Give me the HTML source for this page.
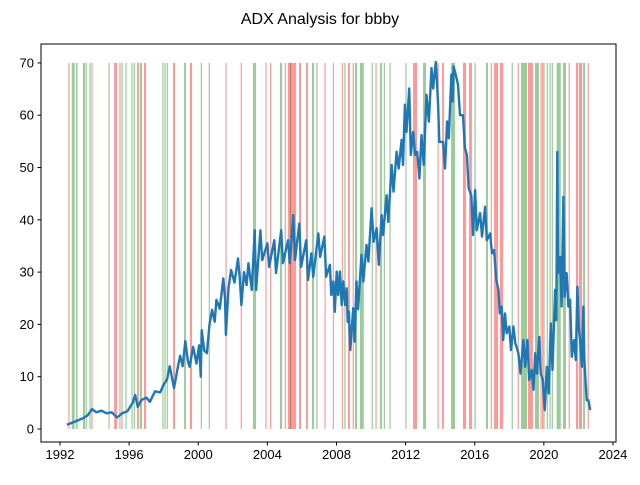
<!DOCTYPE html>
<html><head><meta charset="utf-8"><style>
body{margin:0;background:#fff}
svg text{font-family:"Liberation Sans","DejaVu Sans",sans-serif;fill:#000}
</style></head><body>
<svg id="chart" width="640" height="480">
<rect width="640" height="480" fill="#fff"/>
<text x="320" y="24" text-anchor="middle" font-size="16">ADX Analysis for bbby</text>
<g id="bands"></g>
<g id="series"></g>
<g id="axes"></g>
</svg>
<script>
const priceYears=[1992.4,1992.7,1993.0,1993.3,1993.6,1993.85,1994.1,1994.4,1994.7,1995.0,1995.3,1995.6,1995.9,1996.2,1996.35,1996.5,1996.7,1997.0,1997.2,1997.5,1997.8,1998.0,1998.2,1998.35,1998.5,1998.6,1998.8,1998.95,1999.1,1999.25,1999.4,1999.5,1999.7,1999.9,2000.05,2000.15,2000.2,2000.35,2000.5,2000.65,2000.8,2000.95,2001.05,2001.25,2001.45,2001.55,2001.6,2001.75,2001.9,2002.1,2002.3,2002.4,2002.5,2002.65,2002.8,2002.9,2003.1,
2003.27,2003.35,2003.6,2003.7,2004.0,2004.1,2004.4,2004.5,2004.8,2004.9,2005.2,2005.3,2005.5,2005.6,2005.85,2005.95,2006.25,2006.35,2006.55,2006.65,2006.95,2007.05,2007.3,2007.4,
2007.62,2007.7,2007.82,2007.9,2008.01,2008.1,2008.2,2008.3,2008.39,2008.5,2008.59,2008.65,2008.72,2008.8,2008.97,2009.05,2009.16,2009.25,2009.45,2009.55,2009.74,2009.85,2010.03,2010.15,2010.32,2010.45,2010.61,2010.7,2010.9,2011.0,2011.19,2011.3,2011.48,2011.6,2011.77,2011.85,2011.96,2012.05,2012.21,2012.3,2012.44,2012.55,2012.67,2012.8,2012.92,2013.05,2013.21,2013.35,2013.5,2013.6,2013.75,2013.82,2013.88,2013.95,2014.17,2014.28,2014.4,2014.5,2014.65,2014.72,2014.78,2014.9,2015.03,2015.15,2015.32,2015.43,2015.55,2015.65,2015.8,
2015.9,2016.02,2016.12,2016.31,2016.42,2016.6,2016.7,2016.89,2017.0,2017.12,2017.25,2017.37,2017.45,2017.56,2017.65,2017.75,2017.85,2018.0,2018.1,2018.24,2018.35,2018.53,2018.65,2018.82,2018.92,2019.05,2019.15,2019.3,2019.4,2019.5,2019.6,2019.73,2019.82,2019.94,2020.05,2020.17,2020.28,2020.4,2020.5,2020.65,2020.72,2020.78,2020.82,2020.94,2021.03,2021.13,2021.2,2021.32,2021.42,2021.52,2021.62,2021.75,2021.85,2021.94,2022.02,2022.1,2022.2,2022.29,2022.34,2022.39,2022.48,2022.58,2022.68];
const priceValues=[0.8,1.2,1.6,2.0,2.6,3.8,3.2,3.5,3.0,3.2,2.2,3.0,3.4,5.0,6.5,4.2,5.5,6.0,5.2,7.2,7.0,8.5,9.5,12.0,9.5,7.8,11.5,14.0,12.0,16.8,13.0,11.9,15.7,12.5,16.0,10.0,18.9,15.0,14.5,20.0,22.8,20.5,24.7,23.0,28.8,25.0,18.0,27.0,30.4,28.0,32.6,29.0,23.7,30.0,27.5,31.7,26.6,
38.0,26.6,38.0,32.3,35.5,31.0,36.1,29.8,38.0,31.7,36.1,31.7,40.9,32.3,39.3,31.0,36.1,28.5,33.6,29.1,37.4,32.9,36.8,29.1,
31.4,25.6,28.2,22.4,30.1,25.6,30.1,23.7,28.2,23.7,26.9,20.5,22.4,15.1,23.1,16.7,28.2,22.9,33.3,28.2,35.2,32.0,42.2,35.8,38.4,31.4,40.9,37.1,44.7,39.6,50.5,45.4,53.0,49.8,55.3,50.5,62.0,56.8,65.1,52.4,56.8,52.4,53.0,47.9,56.2,50.5,63.9,58.8,69.0,65.1,70.2,66.4,62.0,54.9,54.9,49.8,58.8,55.6,67.8,62.6,69.3,67.8,65.8,60.0,60.0,53.7,52.4,46.0,44.7,
37.1,45.7,38.0,41.3,36.8,42.5,36.1,37.4,33.6,34.2,28.5,26.6,22.1,23.4,17.0,22.1,18.3,19.6,15.1,19.6,16.4,14.5,10.6,17.0,11.9,17.0,9.4,11.3,7.5,14.5,10.6,17.6,10.6,9.4,3.6,11.9,6.8,20.2,11.3,26.6,20.8,53.0,29.8,32.9,23.4,44.4,25.3,29.8,23.4,24.7,13.8,17.0,13.2,27.2,19.6,17.0,11.9,23.4,13.8,10.6,5.5,5.5,3.6,3.0];
const redStarts=[1992.52,1993.85,1995.13,1995.47,1996.46,1996.86,1998.54,1999.52,2001.61,2002.49,2003.92,2004.19,2005.04,2005.19,2005.83,2006.24,2007.34,2007.82,2008.34,2008.67,2008.97,2010.29,2012.43,2013.88,2014.11,2015.32,2015.67,2016.96,2017.12,2017.46,2018.52,2019.08,2019.84,2019.93,2021.47,2021.86,2022.03,2022.57];
const redEnds=[1992.58,1993.85,1995.30,1995.53,1996.57,1996.98,1998.66,1999.64,2001.61,2002.49,2003.92,2004.19,2005.04,2005.66,2005.95,2006.35,2007.34,2007.82,2008.34,2008.78,2008.97,2010.29,2012.66,2013.88,2014.22,2015.50,2015.84,2016.96,2017.35,2017.64,2018.52,2019.37,2019.84,2019.93,2021.47,2021.98,2022.21,2022.57];
const greenStarts=[1992.68,1992.93,1993.33,1993.52,1993.74,1994.84,1995.59,1995.82,1996.17,1996.30,1996.63,1997.96,1998.08,1998.21,1999.18,2000.18,2000.64,2003.17,2004.73,2005.34,2006.58,2006.87,2008.49,2009.07,2009.36,2010.07,2010.52,2010.77,2011.10,2012.02,2013.01,2014.63,2016.02,2016.65,2018.17,2018.68,2019.49,2020.01,2020.20,2020.36,2020.49,2020.74,2021.11,2022.27];
const greenEnds=[1992.85,1993.02,1993.45,1993.52,1993.74,1994.84,1995.59,1995.82,1996.17,1996.30,1996.75,1997.96,1998.08,1998.21,1999.29,2000.18,2000.64,2003.34,2004.85,2005.34,2006.70,2006.87,2008.49,2009.19,2009.58,2010.07,2010.63,2010.77,2011.10,2012.02,2013.18,2014.86,2016.02,2016.77,2018.17,2019.03,2019.72,2020.07,2020.20,2020.36,2020.49,2020.98,2021.28,2022.38];
const xTicks=[1992,1996,2000,2004,2008,2012,2016,2020,2024];
const yTicks=[0,10,20,30,40,50,60,70];
const bandTop=70, bandBottom=0;

const NS='http://www.w3.org/2000/svg';
const X=yr=>60+(yr-1992)*17.28;
const Y=v=>429-v*5.23;
function mk(tag,attrs,parent){const e=document.createElementNS(NS,tag);for(const k in attrs)e.setAttribute(k,attrs[k]);parent.appendChild(e);return e;}
const bands=document.getElementById('bands');
function drawBands(starts,ends,color,name){
  for(let i=0;i<starts.length;i++){
    const x0=X(starts[i]),x1=X(ends[i]);
    const w=Math.max(1.2,x1-x0);
    const r=mk('rect',{x:x0-(x1-x0<1.2?0.6:0),y:Y(bandTop),width:w,height:Y(bandBottom)-Y(bandTop),fill:color},bands);
    
    
  }
}
drawBands(greenStarts,greenEnds,'rgba(0,128,0,0.4)','buy-signal-band');
drawBands(redStarts,redEnds,'rgba(255,0,0,0.4)','sell-signal-band');
const series=document.getElementById('series');
const pts=priceYears.map((yr,i)=>X(yr).toFixed(1)+','+Y(priceValues[i]).toFixed(1)).join(' ');
const pl=mk('polyline',{points:pts,fill:'none',stroke:'#1f77b4','stroke-width':2.4,'stroke-linejoin':'round'},series);


const axes=document.getElementById('axes');
const frame=mk('rect',{x:41,y:44,width:575,height:398,fill:'none',stroke:'#000','stroke-width':1},axes);


xTicks.forEach(t=>{
  const x=X(t);
  mk('line',{x1:x,x2:x,y1:442,y2:445.5,stroke:'#000'},axes);
  const tx=mk('text',{x:x,y:459,'text-anchor':'middle','font-size':13},axes);
  tx.textContent=t;
  
  
});
yTicks.forEach(t=>{
  const y=Y(t);
  mk('line',{x1:37.5,x2:41,y1:y,y2:y,stroke:'#000'},axes);
  const tx=mk('text',{x:34,y:y+4.5,'text-anchor':'end','font-size':13},axes);
  tx.textContent=t;
  
  
});
</script>
</body></html>
